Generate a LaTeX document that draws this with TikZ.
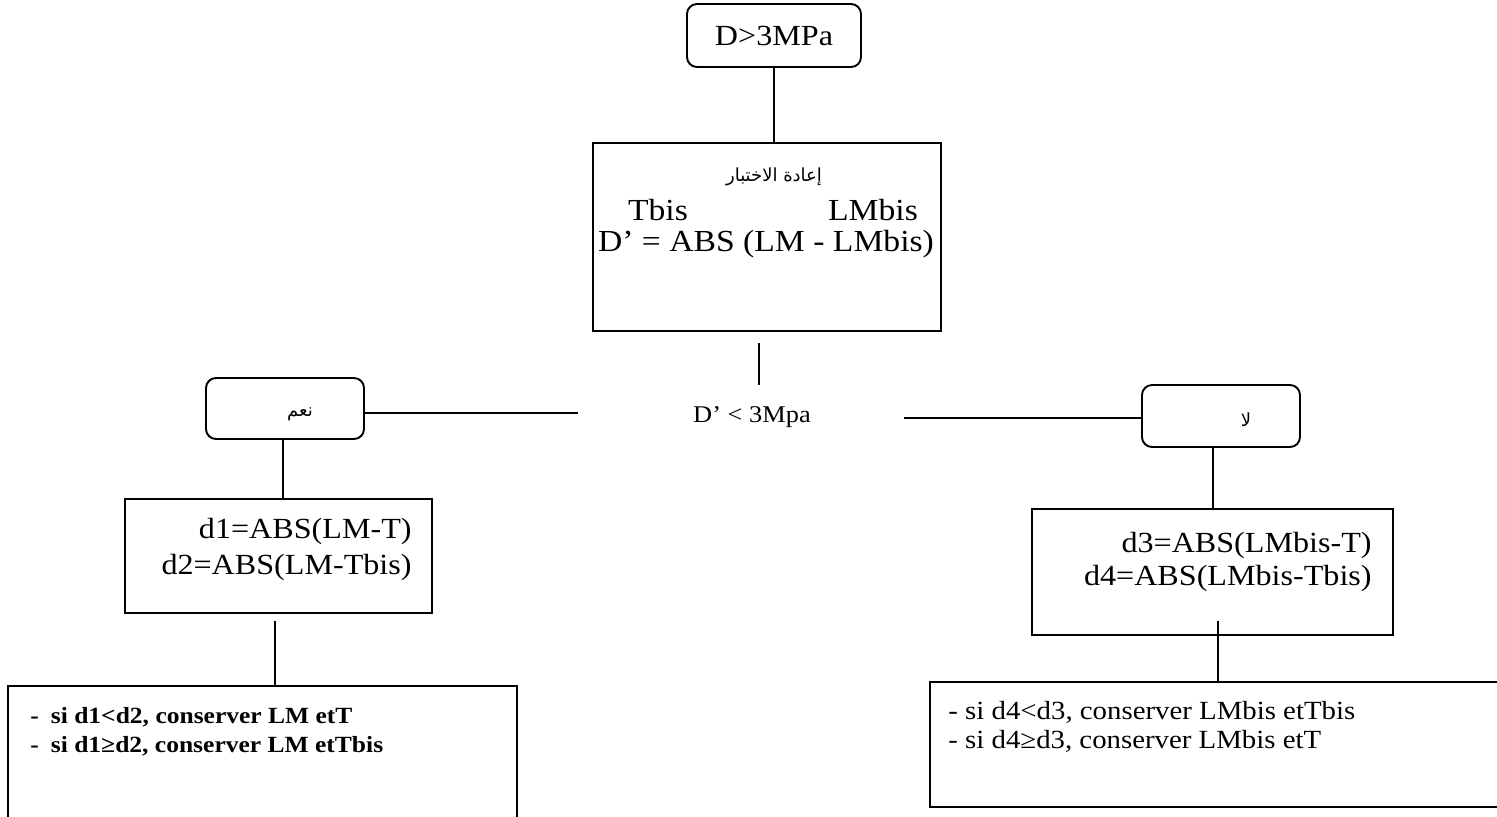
\documentclass[tikz,border=0pt]{standalone}
\usepackage{fontspec}
\setmainfont{Liberation Serif}[FakeStretch=1.1]
\newfontfamily\arabicfont[Script=Arabic]{DejaVu Sans}
\TeXXeTstate=1
\usetikzlibrary{positioning,calc}

\begin{document}
\begin{tikzpicture}[x=0.5pt, y=-0.5pt,
    rbox/.style={rectangle, draw, line width=0.95pt, rounded corners=5pt, inner sep=0pt},
    sbox/.style={rectangle, draw, line width=0.95pt, inner sep=0pt},
    link/.style={line width=0.95pt},
    txt/.style={inner sep=0pt, font=\fontsize{14.6}{18}\selectfont},
    ar/.style={inner sep=0pt, font=\fontsize{9}{11}\arabicfont},
  ]
  \useasboundingbox (0,0) rectangle (1497,816);
  \clip (0,0) rectangle (1497,816);

  % first test
  \node[rbox, txt, minimum width=87pt, minimum height=31.5pt] (top) at (774,35.5) {D>3MPa};

  % retest box
  \node[sbox, minimum width=174pt, minimum height=94pt] (retest) at (767,237) {};
  \node[ar] (retesttxt) at (774,177) {\beginR إعادة الاختبار\endR};
  \node[txt, font=\fontsize{15.3}{18}\selectfont] (tbis) at (658,210) {Tbis};
  \node[txt, font=\fontsize{15.3}{18}\selectfont] (lmbis) at (873,210) {LMbis};
  \node[txt, font=\fontsize{15.3}{18}\selectfont] (dprime) at (766,244) {D’ = ABS (LM - LMbis)};

  % condition
  \node[txt, font=\fontsize{12}{14}\selectfont] (cond) at (752,417) {D’ < 3Mpa};
  \coordinate (condtop) at (759,343);
  \coordinate (condbot) at (759,385);
  \coordinate (yesend) at (578,413);
  \coordinate (noend) at (904,418);

  % yes / no
  \node[rbox, minimum width=79pt, minimum height=30.5pt] (yes) at (285,408.5) {};
  \node[ar] (yestxt) at (300,414) {\beginR نعم\endR};
  \node[rbox, minimum width=79pt, minimum height=31pt] (no) at (1221,416) {};
  \node[ar] (notxt) at (1246,420) {\beginR لا\endR};

  % distances
  \node[sbox, minimum width=153.5pt, minimum height=57pt] (dyes) at (278.5,556) {};
  \node[txt, align=right, anchor=east] (dyestxt) at (412,549) {d1=ABS(LM-T)\\d2=ABS(LM-Tbis)};
  \node[sbox, minimum width=180.5pt, minimum height=63pt] (dno) at (1212.5,572) {};
  \node[txt, align=right, anchor=east, font=\fontsize{14.6}{16.5}\selectfont] (dnotxt) at (1372,562) {d3=ABS(LMbis-T)\\d4=ABS(LMbis-Tbis)};

  % decisions
  \node[sbox, minimum width=254.5pt, minimum height=72pt] (keepyes) at (262.5,758) {};
  \node[txt, align=left, anchor=west, font=\fontsize{11.6}{14.5}\bfseries] (keepyestxt) at (30,732)
    {-\hspace{6pt}si d1<d2, conserver LM etT\\-\hspace{6pt}si d1≥d2, conserver LM etTbis};
  \node[sbox, minimum width=290pt, minimum height=62.5pt] (keepno) at (1220,744.5) {};
  \node[txt, align=left, anchor=west, font=\fontsize{13.1}{14.75}\selectfont] (keepnotxt) at (948,727)
    {- si d4<d3, conserver LMbis etTbis\\- si d4≥d3, conserver LMbis etT};

  \coordinate (dyesgap) at (275,621);
  \coordinate (dnogap) at (1218,621);

  % connectors
  \draw[link] (top.south) -- (top.south |- retest.north);
  \draw[link] (condtop) -- (condbot);
  \draw[link] (yesend) -- (yesend -| yes.east);
  \draw[link] (noend) -- (noend -| no.west);
  \draw[link] (yes.south -| 283,0) -- (dyes.north -| 283,0);
  \draw[link] (dno.north -| 1213,0) -- (no.south -| 1213,0);
  \draw[link] (dyesgap) -- (dyesgap |- keepyes.north);
  \draw[link] (dnogap) -- (dnogap |- keepno.north);
\end{tikzpicture}
\end{document}
